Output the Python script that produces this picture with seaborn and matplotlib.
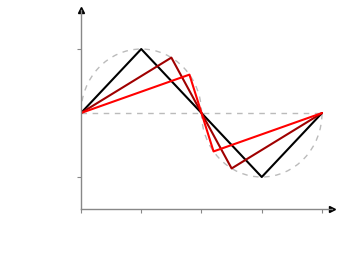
import numpy as np
import pandas as pd
import seaborn as sns
import matplotlib.pyplot as plt
from matplotlib.patches import Arc

# x in units of pi, y in amplitude units
black_x = [0, 0.5, 1.5, 2]
black_y = [0, 1.0, -1.0, 0]
darkred_x = [0, 0.75, 1.25, 2]
darkred_y = [0, 0.866, -0.866, 0]
red_x = [0, 0.9, 1.1, 2]
red_y = [0, 0.6, -0.6, 0]

x_ticks = [0, 0.5, 1, 1.5, 2]
y_ticks = [-1, 1]

sns.set_style("white")
fig = plt.figure(figsize=(3.5, 2.61), dpi=100)
ax = fig.add_axes([0.2314, 0.1992, 0.9486 - 0.2314, 0.9617 - 0.1992])

# dashed guides: zero line and two half ellipses
ax.plot([0, 2], [0, 0], color="#bbbbbb", lw=1, ls=(0, (4, 4)))
ax.add_patch(Arc((0.5, 0), 1, 2, theta1=0, theta2=180,
                 color="#bbbbbb", lw=1, ls=(0, (4, 4))))
ax.add_patch(Arc((1.5, 0), 1, 2, theta1=180, theta2=360,
                 color="#bbbbbb", lw=1, ls=(0, (4, 4))))

for xs, ys, c in [(black_x, black_y, "black"),
                  (darkred_x, darkred_y, "#a00000"),
                  (red_x, red_y, "#ff0000")]:
    sns.lineplot(x=xs, y=ys, sort=False, estimator=None, color=c, lw=1.5, ax=ax)

ax.set_xlim(0, 2.083)
ax.set_ylim(-1.5, 1.61)
ax.set_xticks(x_ticks)
ax.set_yticks(y_ticks)
ax.set_xticklabels([])
ax.set_yticklabels([])
ax.tick_params(axis="both", direction="out", length=3, width=0.8,
               color="#888888", bottom=True, left=True)

for s in ["top", "right"]:
    ax.spines[s].set_visible(False)
for s in ["left", "bottom"]:
    ax.spines[s].set_color("#888888")
    ax.spines[s].set_linewidth(1)

ax.plot(1, 0, ">k", transform=ax.transAxes, clip_on=False, ms=4)
ax.plot(0, 1, "^k", transform=ax.transAxes, clip_on=False, ms=4)

fig.savefig("out.png", dpi=100)
